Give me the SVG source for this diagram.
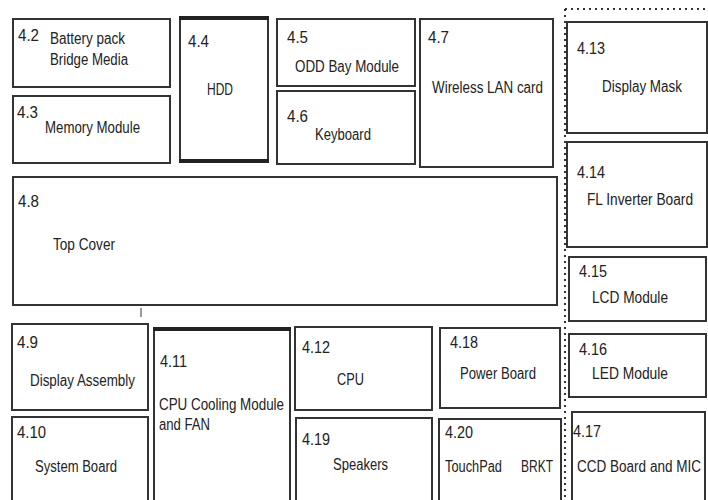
<svg xmlns="http://www.w3.org/2000/svg" width="708" height="500" viewBox="0 0 708 500">
<style>
.box{fill:#fff;stroke:#333;stroke-width:2}
.thick{stroke:#222;stroke-width:4}
.t{font-family:"Liberation Sans",Arial,sans-serif;font-size:16px;fill:#222}
.dot{stroke:#333;stroke-width:2;stroke-dasharray:2 4;fill:none}
</style>
<rect width="708" height="500" fill="#fff"/>
<g id="connectors">
<line class="dot" x1="565" y1="9" x2="708" y2="9"/>
<line class="dot" x1="565" y1="9" x2="565" y2="500"/>
<line x1="141" y1="308" x2="141" y2="317" stroke="#333" stroke-width="1"/>
</g>
<g id="n42"><rect class="box" x="13" y="19" width="157" height="68"/><text class="t" x="18" y="41" textLength="21" lengthAdjust="spacingAndGlyphs">4.2</text><text class="t" x="50" y="44" textLength="75" lengthAdjust="spacingAndGlyphs">Battery pack</text><text class="t" x="50" y="65" textLength="78" lengthAdjust="spacingAndGlyphs">Bridge Media</text></g>
<g id="n43"><rect class="box" x="13" y="96" width="157" height="67"/><text class="t" x="17" y="118" textLength="21" lengthAdjust="spacingAndGlyphs">4.3</text><text class="t" x="45" y="133" textLength="95" lengthAdjust="spacingAndGlyphs">Memory Module</text></g>
<g id="n44"><rect class="box" x="180" y="18" width="88" height="144"/><line class="thick" x1="179" y1="18" x2="269" y2="18"/><line class="thick" x1="179" y1="161" x2="269" y2="161"/><text class="t" x="188" y="47" textLength="21" lengthAdjust="spacingAndGlyphs">4.4</text><text class="t" x="207" y="95" textLength="26" lengthAdjust="spacingAndGlyphs">HDD</text></g>
<g id="n45"><rect class="box" x="277" y="19" width="138" height="67"/><text class="t" x="287" y="43" textLength="21" lengthAdjust="spacingAndGlyphs">4.5</text><text class="t" x="295" y="72" textLength="104" lengthAdjust="spacingAndGlyphs">ODD Bay Module</text></g>
<g id="n46"><rect class="box" x="277" y="91" width="138" height="73"/><text class="t" x="287" y="122" textLength="21" lengthAdjust="spacingAndGlyphs">4.6</text><text class="t" x="315" y="140" textLength="56" lengthAdjust="spacingAndGlyphs">Keyboard</text></g>
<g id="n47"><rect class="box" x="420" y="19" width="133" height="148"/><text class="t" x="428" y="43" textLength="21" lengthAdjust="spacingAndGlyphs">4.7</text><text class="t" x="432" y="93" textLength="111" lengthAdjust="spacingAndGlyphs">Wireless LAN card</text></g>
<g id="n413"><rect class="box" x="567" y="22" width="140" height="111"/><text class="t" x="577" y="54" textLength="28" lengthAdjust="spacingAndGlyphs">4.13</text><text class="t" x="602" y="92" textLength="80" lengthAdjust="spacingAndGlyphs">Display Mask</text></g>
<g id="n414"><rect class="box" x="567" y="142" width="140" height="105"/><text class="t" x="577" y="178" textLength="28" lengthAdjust="spacingAndGlyphs">4.14</text><text class="t" x="587" y="205" textLength="106" lengthAdjust="spacingAndGlyphs">FL Inverter Board</text></g>
<g id="n48"><rect class="box" x="13" y="177" width="544" height="128"/><text class="t" x="18" y="207" textLength="21" lengthAdjust="spacingAndGlyphs">4.8</text><text class="t" x="53" y="250" textLength="62" lengthAdjust="spacingAndGlyphs">Top Cover</text></g>
<g id="n415"><rect class="box" x="569" y="257" width="137" height="64"/><text class="t" x="579" y="277" textLength="28" lengthAdjust="spacingAndGlyphs">4.15</text><text class="t" x="592" y="303" textLength="76" lengthAdjust="spacingAndGlyphs">LCD Module</text></g>
<g id="n416"><rect class="box" x="569" y="334" width="137" height="63"/><text class="t" x="579" y="355" textLength="28" lengthAdjust="spacingAndGlyphs">4.16</text><text class="t" x="592" y="379" textLength="76" lengthAdjust="spacingAndGlyphs">LED Module</text></g>
<g id="n417"><rect class="box" x="572" y="412" width="133" height="92"/><text class="t" x="573" y="437" textLength="28" lengthAdjust="spacingAndGlyphs">4.17</text><text class="t" x="577" y="472" textLength="124" lengthAdjust="spacingAndGlyphs">CCD Board and MIC</text></g>
<g id="n49"><rect class="box" x="12" y="324" width="136" height="86"/><text class="t" x="17" y="348" textLength="21" lengthAdjust="spacingAndGlyphs">4.9</text><text class="t" x="30" y="386" textLength="105" lengthAdjust="spacingAndGlyphs">Display Assembly</text></g>
<g id="n410"><rect class="box" x="12" y="417" width="136" height="87"/><text class="t" x="17" y="438" textLength="29" lengthAdjust="spacingAndGlyphs">4.10</text><text class="t" x="35" y="472" textLength="82" lengthAdjust="spacingAndGlyphs">System Board</text></g>
<g id="n411"><rect class="box" x="154" y="329" width="136" height="175"/><line class="thick" x1="153" y1="329" x2="291" y2="329"/><text class="t" x="160" y="367" textLength="27" lengthAdjust="spacingAndGlyphs">4.11</text><text class="t" x="159" y="410" textLength="125" lengthAdjust="spacingAndGlyphs">CPU Cooling Module</text><text class="t" x="159" y="430" textLength="51" lengthAdjust="spacingAndGlyphs">and FAN</text></g>
<g id="n412"><rect class="box" x="295" y="327" width="137" height="83"/><text class="t" x="302" y="353" textLength="28" lengthAdjust="spacingAndGlyphs">4.12</text><text class="t" x="337" y="385" textLength="27" lengthAdjust="spacingAndGlyphs">CPU</text></g>
<g id="n418"><rect class="box" x="440" y="328" width="120" height="80"/><text class="t" x="450" y="348" textLength="28" lengthAdjust="spacingAndGlyphs">4.18</text><text class="t" x="460" y="379" textLength="76" lengthAdjust="spacingAndGlyphs">Power Board</text></g>
<g id="n419"><rect class="box" x="296" y="418" width="136" height="86"/><text class="t" x="302" y="445" textLength="28" lengthAdjust="spacingAndGlyphs">4.19</text><text class="t" x="333" y="470" textLength="55" lengthAdjust="spacingAndGlyphs">Speakers</text></g>
<g id="n420"><rect class="box" x="439" y="419" width="122" height="85"/><text class="t" x="445" y="438" textLength="28" lengthAdjust="spacingAndGlyphs">4.20</text><text class="t" x="445" y="472" textLength="57" lengthAdjust="spacingAndGlyphs">TouchPad</text><text class="t" x="521" y="472" textLength="32" lengthAdjust="spacingAndGlyphs">BRKT</text></g>
</svg>
